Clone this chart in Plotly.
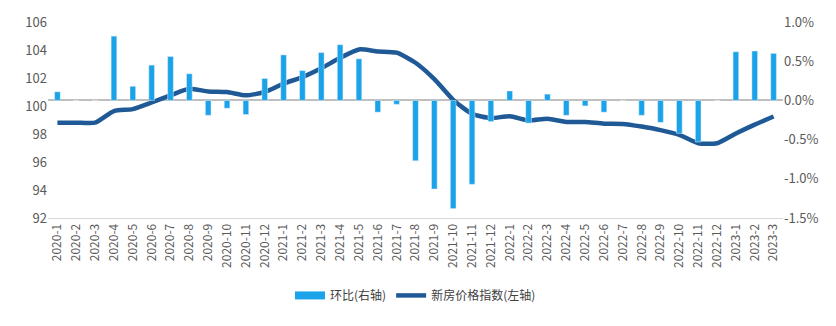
import plotly.graph_objects as go

months = ["2020-1","2020-2","2020-3","2020-4","2020-5","2020-6","2020-7","2020-8","2020-9","2020-10","2020-11","2020-12",
          "2021-1","2021-2","2021-3","2021-4","2021-5","2021-6","2021-7","2021-8","2021-9","2021-10","2021-11","2021-12",
          "2022-1","2022-2","2022-3","2022-4","2022-5","2022-6","2022-7","2022-8","2022-9","2022-10","2022-11","2022-12",
          "2023-1","2023-2","2023-3"]

mom_pct = [0.11, 0.0, 0.0, 0.82, 0.18, 0.45, 0.56, 0.34, -0.19, -0.10, -0.18, 0.28,
           0.58, 0.38, 0.61, 0.71, 0.53, -0.15, -0.05, -0.77, -1.13, -1.38, -1.07, -0.27,
           0.12, -0.29, 0.08, -0.19, -0.07, -0.15, 0.0, -0.19, -0.28, -0.42, -0.53, 0.0,
           0.62, 0.63, 0.60]

index_vals = [98.81, 98.81, 98.81, 99.64, 99.78, 100.25, 100.76, 101.23, 101.04, 101.0, 100.76, 101.0,
              101.6, 102.06, 102.69, 103.44, 104.04, 103.9, 103.81, 103.09, 101.92, 100.44, 99.44, 99.14,
              99.27, 98.97, 99.09, 98.86, 98.86, 98.74, 98.72, 98.53, 98.28, 97.94, 97.34, 97.34,
              98.04, 98.67, 99.25]

left_ticks = [92, 94, 96, 98, 100, 102, 104, 106]
right_ticks = [-1.5, -1.0, -0.5, 0.0, 0.5, 1.0]
right_labels = ["-1.5%", "-1.0%", "-0.5%", "0.0%", "0.5%", "1.0%"]

bar_color = "#1AA3E8"
line_color = "#1F5A96"
font_fam = "Microsoft YaHei, Noto Sans CJK SC, Noto Sans, sans-serif"

fig = go.Figure()
fig.add_trace(go.Bar(x=months, y=mom_pct, name="环比(右轴)", marker_color=bar_color,
                     yaxis="y2", showlegend=False))
# legend swatch for the bars (wide rectangle like the reference)
fig.add_trace(go.Scatter(x=[None], y=[None], name="环比(右轴)", mode="lines",
                         line=dict(color=bar_color, width=8), yaxis="y2"))
fig.add_trace(go.Scatter(x=months, y=index_vals, name="新房价格指数(左轴)", mode="lines",
                         line=dict(color=line_color, width=4.5, shape="spline", smoothing=0.6),
                         yaxis="y"))

fig.update_layout(
    width=836, height=326,
    margin=dict(l=48, r=53, t=17, b=108),
    paper_bgcolor="white", plot_bgcolor="white",
    font=dict(family=font_fam, color="#595959", size=12),
    bargap=0.7,
    showlegend=True,
    legend=dict(orientation="h", x=0.5, xanchor="center", y=-0.395, yanchor="middle",
                font=dict(size=12, color="#404040"), traceorder="normal"),
    xaxis=dict(type="category", tickangle=-90, tickfont=dict(size=12, color="#595959"),
               showgrid=False, showline=True, linecolor="#D9D9D9", linewidth=1,
               ticks="", zeroline=False),
    yaxis=dict(range=[92, 106], tickvals=left_ticks, showgrid=False, zeroline=False,
               tickfont=dict(size=13, color="#595959"), ticks=""),
    yaxis2=dict(range=[-1.5, 1.0], tickvals=right_ticks, ticktext=right_labels,
                overlaying="y", side="right", showgrid=False, zeroline=True,
                zerolinecolor="#BFBFBF", zerolinewidth=2,
                tickfont=dict(size=13, color="#595959"), ticks=""),
)

fig.write_html("out.html")
